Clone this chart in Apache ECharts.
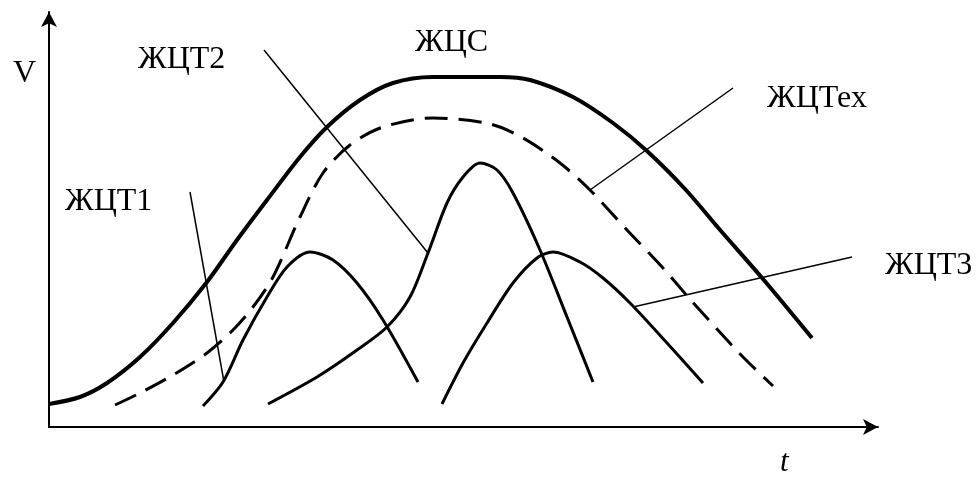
<!DOCTYPE html>
<html>
<head>
<meta charset="utf-8">
<script src="https://cdn.jsdelivr.net/npm/echarts@6/dist/echarts.min.js"></script>
<style>
  html, body { margin: 0; padding: 0; background: #fff; }
  #chart { width: 979px; height: 485px; }
</style>
</head>
<body>
<div id="chart"></div>
<script>
// curves as [t, V] pairs (axis units, origin at the corner of the axes)
const zhcs = [[0, 23], [31, 30], [58, 44], [91, 70], [124, 104], [158, 145], [188, 187], [218, 227],
    [251, 270], [278, 300], [311, 327], [344, 344], [384, 350], [451, 350], [481, 347], [524, 330],
    [564, 304], [598, 276], [636, 238], [672, 196], [714, 148], [763, 89]];
const zhctTech = [[66, 22], [91, 34], [124, 52], [158, 74], [184, 97], [204, 120], [224, 150], [251, 210],
    [274, 254], [301, 282], [334, 300], [384, 309], [441, 303], [474, 289], [511, 264], [541, 237],
    [578, 197], [614, 159], [640, 129], [667, 99], [694, 70], [724, 41]];
const zhct1 = [[154, 21], [174, 45], [194, 87], [218, 130], [238, 160], [261, 175], [284, 167], [308, 144],
    [334, 107], [369, 45]];
const zhct2 = [[219, 23], [268, 50], [308, 77], [338, 100], [361, 130], [379, 174], [398, 224], [414, 250],
    [431, 264], [448, 257], [464, 234], [491, 177], [518, 110], [544, 45]];
const zhct3 = [[393, 23], [414, 64], [438, 104], [464, 144], [488, 169], [504, 175], [531, 165], [554, 149],
    [581, 124], [618, 84], [654, 44]];

// leader lines from labels to curves
const leader1 = [[141, 235], [175, 45]];
const leader2 = [[215, 377], [379, 174]];
const leaderTech = [[684, 339], [541, 237]];
const leader3 = [[803, 170], [584, 120]];

const labels = [
    { text: 'V', x: 13, y: 73 },
    { text: 'ЖЦТ2', x: 138, y: 59 },
    { text: 'ЖЦС', x: 415, y: 42 },
    { text: 'ЖЦТех', x: 767, y: 98 },
    { text: 'ЖЦТ1', x: 65, y: 201 },
    { text: 'ЖЦТ3', x: 885, y: 265 }
];

document.addEventListener('DOMContentLoaded', function () {
    const chart = echarts.init(document.getElementById('chart'));

    function curve(data, width, type) {
        return {
            type: 'line',
            data: data,
            symbol: 'none',
            smooth: 0.3,
            silent: true,
            lineStyle: { color: '#000', width: width, type: type || 'solid', cap: 'butt' }
        };
    }
    function leader(data) {
        return {
            type: 'line',
            data: data,
            symbol: 'none',
            silent: true,
            lineStyle: { color: '#000', width: 1.5 }
        };
    }

    const hiddenBits = {
        axisTick: { show: false },
        axisLabel: { show: false },
        splitLine: { show: false }
    };

    const textItems = labels.map(l => ({
        type: 'text',
        left: l.x,
        top: l.y - 15,
        style: { text: l.text, font: '32px "Liberation Serif"', fill: '#000' }
    }));
    textItems.push({
        type: 'text',
        left: 780,
        top: 447,
        style: { text: 't', font: 'italic 31px "Liberation Serif"', fill: '#000' }
    });

    chart.setOption({
        animation: false,
        grid: { left: 49, top: 12, width: 829, height: 415 },
        xAxis: Object.assign({
            type: 'value', min: 0, max: 829,
            axisLine: { symbol: ['none', 'arrow'], symbolSize: [12, 15], lineStyle: { color: '#000', width: 2 } }
        }, hiddenBits),
        yAxis: Object.assign({
            type: 'value', min: 0, max: 415,
            axisLine: { symbol: ['none', 'arrow'], symbolSize: [12, 15], lineStyle: { color: '#000', width: 2 } }
        }, hiddenBits),
        series: [
            curve(zhcs, 4),
            curve(zhctTech, 3, [23, 11]),
            curve(zhct1, 3),
            curve(zhct2, 3),
            curve(zhct3, 3),
            leader(leader1),
            leader(leader2),
            leader(leaderTech),
            leader(leader3)
        ],
        graphic: textItems
    });
});
</script>
</body>
</html>
